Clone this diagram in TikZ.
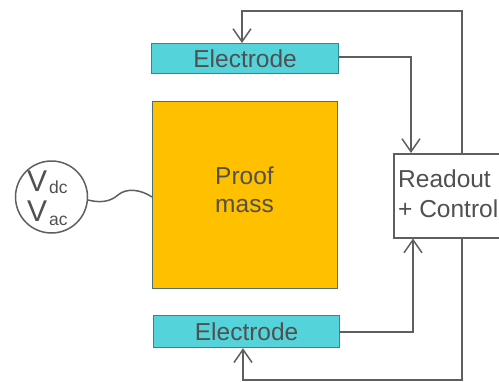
\documentclass[tikz,border=0pt]{standalone}
\usepackage{fontspec}
\setmainfont{Liberation Sans}
\usetikzlibrary{arrows.meta}
\definecolor{txt}{HTML}{505050}
\definecolor{ln}{HTML}{5F5F5F}
\definecolor{cyanf}{HTML}{55D3DA}
\definecolor{cyanb}{HTML}{2F8A8E}
\definecolor{orangef}{HTML}{FFC000}
\definecolor{massb}{HTML}{4A7070}
\tikzset{
  electrode/.style={draw=cyanb, fill=cyanf, line width=1.2pt, minimum width=187pt, minimum height=30pt, inner sep=0pt, text=txt, font=\fontsize{24.5}{28}\selectfont},
  wire/.style={draw=ln, line width=1.5pt},
  arr/.style={wire, -{Straight Barb[length=13pt,width=18pt,line width=1.5pt]}},
}
\begin{document}
\begin{tikzpicture}[x=1pt,y=-1pt]
\useasboundingbox (0,0) rectangle (499,381);
\begin{scope}
\clip (0,0) rectangle (499,381);
% readout box
\node[draw=ln, line width=1.5pt, fill=white, minimum width=120pt, minimum height=84pt, inner sep=0pt, anchor=north west] (ro) at (393,153) {};
\node[anchor=north west, text=txt, align=left, font=\fontsize{24.5}{30}\selectfont, inner sep=0pt] (rot) at (398,170) {Readout\\+ Control};
% electrodes
\node[electrode, anchor=north west] (et) at (151,43) {Electrode};
\node[electrode, anchor=north west, minimum width=186pt, minimum height=32pt] (eb) at (153,315) {Electrode};
% proof mass
\node[draw=massb, fill=orangef, line width=1.2pt, minimum width=185pt, minimum height=187pt, inner sep=0pt, anchor=north west] (pm) at (152,101) {};
\node[text=txt, align=center, font=\fontsize{24.5}{28}\selectfont, inner sep=0pt] (pmt) at (244.5,190) {Proof\\mass};
% source
\node[draw=ln, line width=1.5pt, circle, minimum size=72pt, inner sep=0pt] (src) at (51.5,197) {};
\node[text=txt, inner sep=0pt, anchor=base west] (vdc) at (27,191) {\fontsize{30}{30}\selectfont V\kern2pt\raisebox{-2pt}{\fontsize{17.5}{17.5}\selectfont dc}};
\node[text=txt, inner sep=0pt, anchor=base west] (vac) at (27,221) {\fontsize{30}{30}\selectfont V\kern2pt\raisebox{-4pt}{\fontsize{17.5}{17.5}\selectfont ac}};
\coordinate (srcR) at (88,200);
\coordinate (pmL) at (152,197);
\draw[wire] (srcR) .. controls (100,203) and (110,202) .. (118,195) .. controls (126,188) and (140,189) .. (pmL);
% connectors
\coordinate (t1) at (462,11);
\coordinate (t2) at (242,11);
\draw[arr] (ro.north -| t1) -- (t1) -- (t2) -- (et.north -| t2);
\coordinate (r1) at (411,57);
\draw[arr] (et.east |- r1) -- (r1) -- (ro.north -| r1);
\coordinate (r2) at (413,332);
\draw[arr] (eb.east |- r2) -- (r2) -- (ro.south -| r2);
\coordinate (b1) at (462,380);
\coordinate (b2) at (243,380);
\draw[arr] (ro.south -| b1) -- (b1) -- (b2) -- (eb.south -| b2);
\end{scope}
\end{tikzpicture}
\end{document}
